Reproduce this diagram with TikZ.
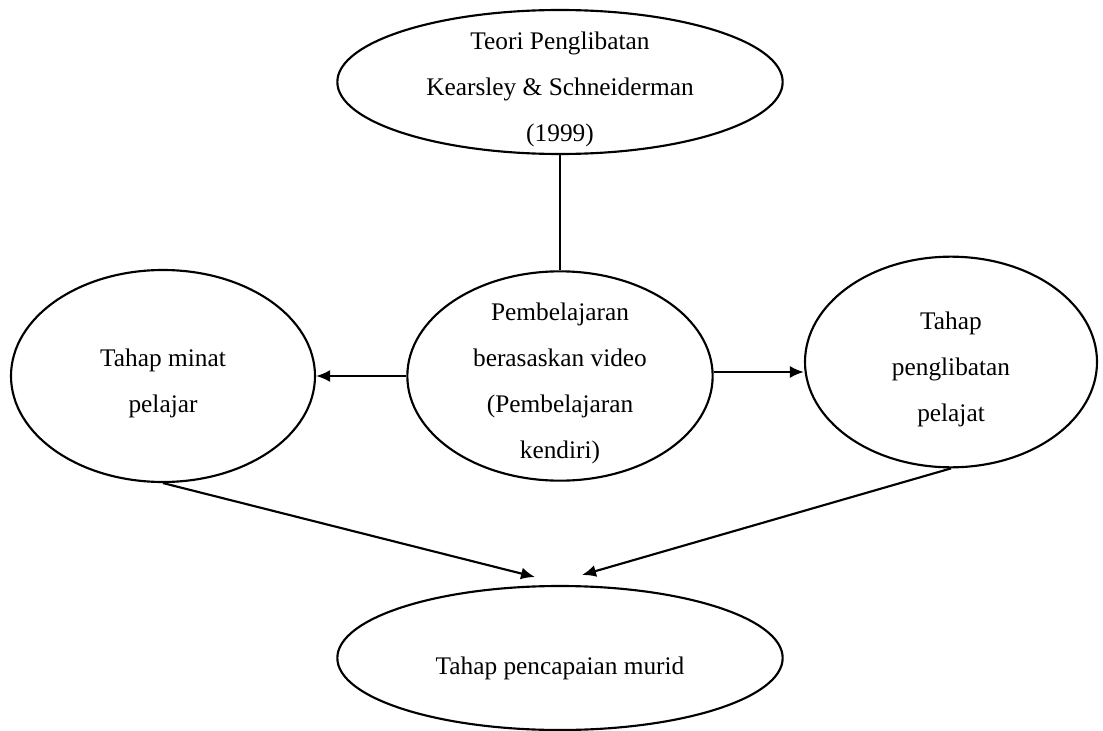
\documentclass[tikz,border=0pt]{standalone}
\usepackage{fontspec}
\setmainfont{Liberation Serif}
\usetikzlibrary{shapes.geometric,arrows.meta,positioning}
\tikzset{>={Latex[length=10.5pt,width=9pt]}}
\tikzset{oval/.style={ellipse, draw, line width=1.6pt, inner sep=0pt},
  ovaltext/.style={align=center, inner sep=0pt, yshift=-5.5pt,
    font=\fontsize{19}{34.5}\selectfont}}
\tikzset{link/.style={line width=1.6pt}}

\begin{document}
\begin{tikzpicture}[x=0.75pt,y=-0.75pt]
  \useasboundingbox (0,0) rectangle (1103,731);
  % the ovals
  \node[oval, minimum width=334pt, minimum height=108pt] (teori) at (560,82) {};
  \node[oval, minimum width=229pt, minimum height=157pt] (video) at (560,376) {};
  \node[oval, minimum width=228pt, minimum height=159pt] (minat) at (163,376) {};
  \node[oval, minimum width=219pt, minimum height=158pt] (libat) at (951,362) {};
  \node[oval, minimum width=334pt, minimum height=108pt] (capai) at (560,658) {};
  % their texts
  \node[ovaltext] (teoriText) at (teori) {Teori Penglibatan\\Kearsley \& Schneiderman\\(1999)};
  \node[ovaltext] (videoText) at (video) {Pembelajaran\\berasaskan video\\(Pembelajaran\\kendiri)};
  \node[ovaltext] (minatText) at (minat) {Tahap minat\\pelajar};
  \node[ovaltext] (libatText) at (libat) {Tahap\\penglibatan\\pelajat};
  \node[ovaltext, yshift=-2.5pt] (capaiText) at (capai) {Tahap pencapaian murid};
  % arrow ends above the bottom oval
  \coordinate (inL) at (535,577);
  \coordinate (inR) at (582,575);
  \draw[link] (teori.south) -- (video.north);
  \draw[link,->] (video.west) -- (minat.east);
  \draw[link,->] ([yshift=3pt]video.east) -- ([yshift=3pt]video.east -| libat.west);
  \draw[link,->] (minat.south) -- (inL);
  \draw[link,->] (libat.south) -- (inR);
\end{tikzpicture}
\end{document}
